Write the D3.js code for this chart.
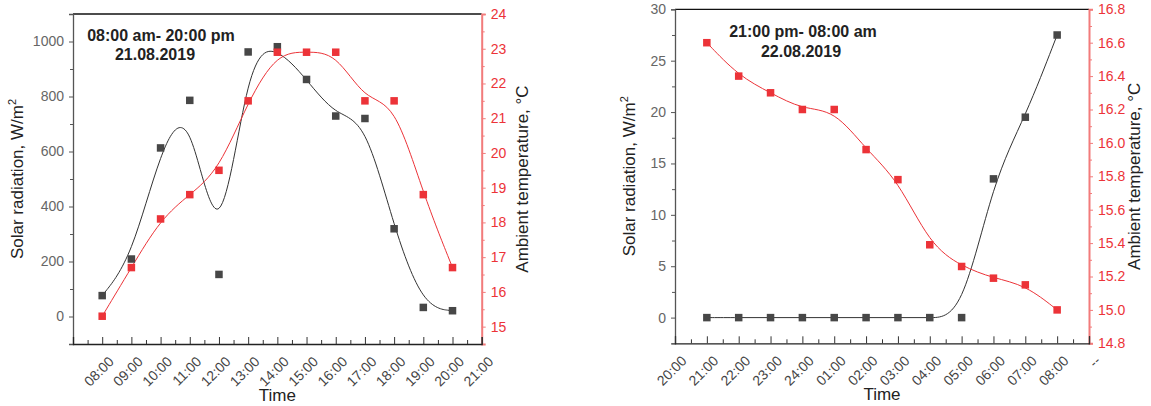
<!DOCTYPE html>
<html><head><meta charset="utf-8">
<script src="https://d3js.org/d3.v7.min.js"></script>
<style>
body{margin:0;background:#fff;}
svg{display:block;font-family:"Liberation Sans",Arial,sans-serif;}
</style></head><body>
<svg id="chart" width="1151" height="406"></svg>
<script>
// ---- Left panel data (21.08.2019, day) ----
const dayHours = [8,9,10,11,12,13,14,15,16,17,18,19,20];
const dayTickValues = [8,9,10,11,12,13,14,15,16,17,18,19,20,21];
const dayTickLabels = ["08:00","09:00","10:00","11:00","12:00","13:00","14:00","15:00","16:00","17:00","18:00","19:00","20:00","21:00"];
const daySolar = [76,209,613,786,153,962,981,862,729,720,319,33,21];
const dayTemp = [15.3,16.7,18.1,18.8,19.5,21.5,22.9,22.9,22.9,21.5,21.5,18.8,16.7];
const daySolarTicks = [0,200,400,600,800,1000];
const dayTempTicks = [15,16,17,18,19,20,21,22,23,24];

// ---- Right panel data (22.08.2019, night) ----
const nightIndex = [1,2,3,4,5,6,7,8,9,10,11,12];
const nightTickLabels = ["20:00","21:00","22:00","23:00","24:00","01:00","02:00","03:00","04:00","05:00","06:00","07:00","08:00","--"];
const nightSolar = [0,0,0,0,0,0,0,0,0,13.5,19.5,27.5];
const nightTemp = [16.6,16.4,16.3,16.2,16.2,15.96,15.78,15.39,15.26,15.19,15.15,15.0];
const nightSolarTicks = [0,5,10,15,20,25,30];
const nightTempTicks = [14.8,15.0,15.2,15.4,15.6,15.8,16.0,16.2,16.4,16.6,16.8];

const svg = d3.select("#chart");
const BLACK = "#474747", RED = "#ec3338", SPINE_RED = "#f27b7b";

function panel(cfg){
  const g = svg.append("g");
  const x = d3.scaleLinear().domain(cfg.xDomain).range([cfg.x0, cfg.x1]);
  const yL = d3.scaleLinear().domain(cfg.yLDomain).range([cfg.y1, cfg.y0]);
  const yR = d3.scaleLinear().domain(cfg.yRDomain).range([cfg.y1, cfg.y0]);

  // top border
  g.append("line").attr("x1",cfg.x0).attr("x2",cfg.x1).attr("y1",cfg.y0).attr("y2",cfg.y0)
    .attr("stroke","#111").attr("stroke-width",1.3);

  // left axis
  const la = g.append("g").attr("transform",`translate(${cfg.x0},0)`)
    .call(d3.axisLeft(yL).tickValues(cfg.yLTicks).tickSize(4).tickPadding(5).tickFormat(cfg.yLFormat));
  la.select(".domain").attr("stroke","#555").attr("stroke-width",1.3);
  la.selectAll(".tick line").attr("stroke","#555");
  la.selectAll(".tick text").attr("fill","#666").attr("font-size",14).attr("font-family","Liberation Sans, Arial, sans-serif");
  const lm = g.append("g").attr("transform",`translate(${cfg.x0},0)`)
    .call(d3.axisLeft(yL).tickValues(cfg.yLMinor).tickSize(3).tickFormat(""));
  lm.select(".domain").remove(); lm.selectAll("line").attr("stroke","#555");

  // right axis
  const ra = g.append("g").attr("transform",`translate(${cfg.x1},0)`)
    .call(d3.axisRight(yR).tickValues(cfg.yRTicks).tickSize(4).tickPadding(5).tickFormat(cfg.yRFormat));
  ra.select(".domain").attr("stroke",SPINE_RED).attr("stroke-width",2);
  ra.selectAll(".tick line").attr("stroke",SPINE_RED);
  ra.selectAll(".tick text").attr("fill",RED).attr("font-size",14).attr("font-family","Liberation Sans, Arial, sans-serif");
  const rm = g.append("g").attr("transform",`translate(${cfg.x1},0)`)
    .call(d3.axisRight(yR).tickValues(cfg.yRMinor).tickSize(3).tickFormat(""));
  rm.select(".domain").remove(); rm.selectAll("line").attr("stroke",SPINE_RED);

  // bottom axis: ticks inward
  const ba = g.append("g").attr("transform",`translate(0,${cfg.y1})`)
    .call(d3.axisTop(x).tickValues(cfg.xTicks).tickSize(7).tickFormat(""));
  ba.select(".domain").attr("stroke","#222").attr("stroke-width",1.3);
  ba.selectAll(".tick line").attr("stroke","#333");
  const bm = g.append("g").attr("transform",`translate(0,${cfg.y1})`)
    .call(d3.axisTop(x).tickValues(cfg.xMinor).tickSize(4).tickFormat(""));
  bm.select(".domain").remove(); bm.selectAll("line").attr("stroke","#333");
  // rotated x labels
  g.append("g").selectAll("text").data(cfg.xTicks).join("text")
    .attr("transform",(d)=>`translate(${x(d)+9},${cfg.y1+15}) rotate(-45)`)
    .attr("text-anchor","end").attr("dy","0.35em")
    .attr("font-size",14).attr("fill","#444")
    .text((d,i)=>cfg.xLabels[i]);

  // curves
  const lineS = d3.line().x((d,i)=>x(cfg.xs[i])).y(d=>yL(d)).curve(d3.curveBasis);
  const lineT = d3.line().x((d,i)=>x(cfg.xs[i])).y(d=>yR(d)).curve(d3.curveBasis);
  g.append("path").attr("d",lineS(cfg.solar)).attr("fill","none").attr("stroke","#333").attr("stroke-width",1);
  g.append("path").attr("d",lineT(cfg.temp)).attr("fill","none").attr("stroke",RED).attr("stroke-width",1);

  const s = 7.5;
  g.append("g").selectAll("rect").data(cfg.solar).join("rect")
    .attr("x",(d,i)=>x(cfg.xs[i])-s/2).attr("y",d=>yL(d)-s/2).attr("width",s).attr("height",s).attr("fill",BLACK);
  g.append("g").selectAll("rect").data(cfg.temp).join("rect")
    .attr("x",(d,i)=>x(cfg.xs[i])-s/2).attr("y",d=>yR(d)-s/2).attr("width",s).attr("height",s).attr("fill",RED);

  // axis titles
  const ly = (cfg.y0+cfg.y1)/2;
  const lt = g.append("text").attr("transform",`translate(${cfg.x0-cfg.leftTitleOff},${ly}) rotate(-90)`)
    .attr("text-anchor","middle").attr("font-size",17).attr("fill","#222");
  lt.append("tspan").text("Solar radiation, W/m");
  lt.append("tspan").attr("dy",-7).attr("font-size",11).text("2");
  g.append("text").attr("transform",`translate(${cfg.x1+cfg.rightTitleOff},${ly}) rotate(-90)`)
    .attr("text-anchor","middle").attr("font-size",17).attr("fill","#222")
    .text("Ambient temperature, \u00B0C");
  g.append("text").attr("x",(cfg.x0+cfg.x1)/2).attr("y",cfg.timeY)
    .attr("text-anchor","middle").attr("font-size",17).attr("fill","#222").text("Time");

  // annotation
  g.append("text").attr("x",cfg.ann1[0]).attr("y",cfg.ann1[1]).attr("text-anchor","middle")
    .attr("font-size",16).attr("font-weight","bold").attr("fill","#222").text(cfg.annText1);
  g.append("text").attr("x",cfg.ann2[0]).attr("y",cfg.ann2[1]).attr("text-anchor","middle")
    .attr("font-size",16).attr("font-weight","bold").attr("fill","#222").text(cfg.annText2);
}

panel({
  x0:73, x1:481.7, y0:14, y1:344,
  xDomain:[7,21], yLDomain:[-100,1100], yRDomain:[14.5,24],
  xTicks:dayTickValues, xLabels:dayTickLabels,
  xMinor:d3.range(7.5,21,1),
  yLTicks:daySolarTicks, yLMinor:[-100,100,300,500,700,900,1100], yLFormat:d3.format("d"),
  yRTicks:dayTempTicks, yRMinor:d3.range(14.5,24,1), yRFormat:d3.format("d"),
  xs:dayHours, solar:daySolar, temp:dayTemp,
  leftTitleOff:50, rightTitleOff:46, timeY:401,
  ann1:[161,41], ann2:[155,60],
  annText1:"08:00 am- 20:00 pm", annText2:"21.08.2019"
});

panel({
  x0:675, x1:1089, y0:9.3, y1:343.3,
  xDomain:[0,13], yLDomain:[-2.5,30], yRDomain:[14.8,16.8],
  xTicks:d3.range(0,14,1), xLabels:nightTickLabels,
  xMinor:d3.range(0.5,13,1),
  yLTicks:nightSolarTicks, yLMinor:[-2.5,2.5,7.5,12.5,17.5,22.5,27.5], yLFormat:d3.format("d"),
  yRTicks:nightTempTicks, yRMinor:d3.range(14.9,16.8,0.2), yRFormat:d3.format(".1f"),
  xs:nightIndex, solar:nightSolar, temp:nightTemp,
  leftTitleOff:40, rightTitleOff:51, timeY:400,
  ann1:[803,37], ann2:[801,57],
  annText1:"21:00 pm- 08:00 am", annText2:"22.08.2019"
});
</script></body></html>
